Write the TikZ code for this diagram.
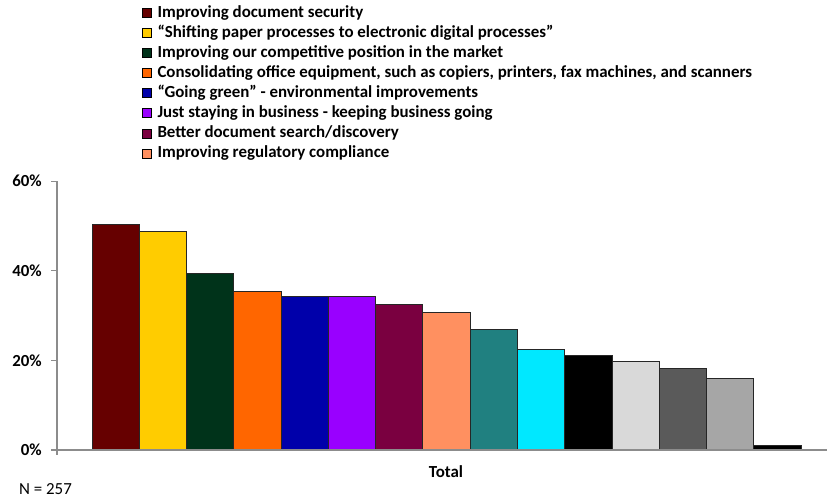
\documentclass[tikz,border=0pt]{standalone}
\usepackage{fontspec}
\setmainfont{Carlito}
\usetikzlibrary{positioning}
\definecolor{cA}{HTML}{660000}
\definecolor{cB}{HTML}{FFCC00}
\definecolor{cC}{HTML}{00331A}
\definecolor{cD}{HTML}{FF6600}
\definecolor{cE}{HTML}{0000AA}
\definecolor{cF}{HTML}{9900FF}
\definecolor{cG}{HTML}{7A0040}
\definecolor{cH}{HTML}{FF9060}
\definecolor{cI}{HTML}{208080}
\definecolor{cJ}{HTML}{00E8FF}
\definecolor{cK}{HTML}{000000}
\definecolor{cL}{HTML}{D9D9D9}
\definecolor{cM}{HTML}{5A5A5A}
\definecolor{cN}{HTML}{A6A6A6}
\definecolor{cO}{HTML}{000000}
\definecolor{axisgray}{HTML}{8C8C8C}
\tikzstyle{axis} = [draw=axisgray, line width=1.2pt]
\tikzset{
 bar/.style
  = {draw=black!85, line width=0.9pt},
 key/.style
  = {draw=black, line width=0.6pt, minimum size=9pt, inner sep=0pt},
 keytext/.style
  = {font=\bfseries\fontsize{16.9}{19}\selectfont, anchor=west, inner sep=0pt},
 ticklabel/.style
  = {font=\bfseries\fontsize{16.9}{19}\selectfont, anchor=east, inner sep=0pt},
}

\begin{document}
\begin{tikzpicture}[x=1pt,y=-1pt]
\useasboundingbox (0,0) rectangle (827,499);

% Legend
\foreach \col/\txt [count=\i] in {
    cA/{Improving document security},
    cB/{“Shifting paper processes to electronic digital processes”},
    cC/{Improving our competitive position in the market},
    cD/{Consolidating office equipment, such as copiers, printers, fax machines, and scanners},
    cE/{“Going green” - environmental improvements},
    cF/{Just staying in business - keeping business going},
    cG/{Better document search/discovery},
    cH/{Improving regulatory compliance}}
{
    \node[key, fill=\col] (k\i) at (146.5,{12.7+20.1*(\i-1)}) {};
    \node[keytext, right=6pt of k\i] (t\i) {\txt};
}

% Bars
\foreach \col/\val [count=\i] in {cA/50.4, cB/48.7, cC/39.3, cD/35.3, cE/34.2,
    cF/34.2, cG/32.5, cH/30.8, cI/26.9, cJ/22.5, cK/21.0, cL/19.8, cM/18.2,
    cN/15.9, cO/1.1}
{
    \draw[bar, fill=\col] ({92+47.27*(\i-1)},450) rectangle ({92+47.27*\i},{450-4.48*\val});
}

% Axes
\draw[axis] (57,181) -- (57,455);
\draw[axis] (57,450) -- (827,450);
\foreach \p in {0,20,40,60}
{
    \draw[axis] (51,{450-4.48*\p}) -- (57,{450-4.48*\p});
    \node[ticklabel] (y\p) at (42,{450-4.48*\p}) {\p\%};
}

% Category and sample size
\node[font=\bfseries\fontsize{16.9}{19}\selectfont] (cat) at (446,472) {Total};
\node[font=\fontsize{16.9}{19}\selectfont, anchor=west, inner sep=0pt] (n) at (19,489) {N = 257};

\end{tikzpicture}
\end{document}
